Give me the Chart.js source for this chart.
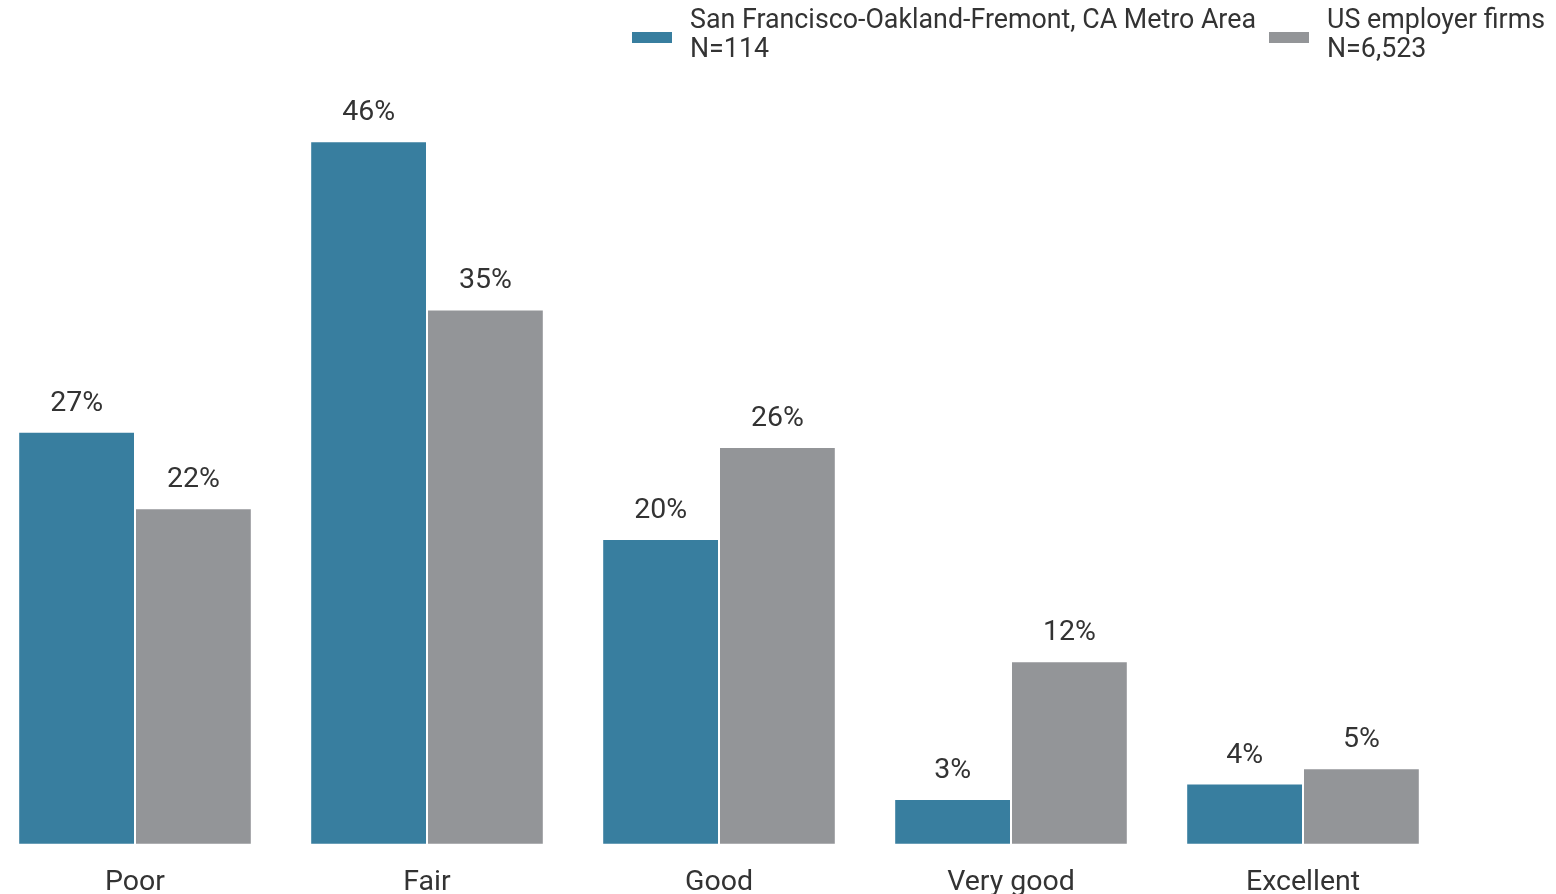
<!DOCTYPE html>
<html>
<head>
<meta charset="utf-8">
<script src="https://cdn.jsdelivr.net/npm/chart.js@4"></script>
<style>
  html, body { margin: 0; padding: 0; background: #fff; overflow: hidden; }
  body { width: 1556px; height: 894px; position: relative; font-family: Roboto, sans-serif; }
  #wrap { position: absolute; left: -11px; top: 0; width: 1460px; height: 921px; }
  .legend { position: absolute; top: 5px; color: #333; font-size: 26.8px; line-height: 29px; }
  .legend .sw { position: absolute; left: 0; top: 27px; width: 40px; height: 11px; }
  .legend .txt { margin-left: 58px; white-space: nowrap; }
</style>
</head>
<body>
<div id="wrap"><canvas id="grafico"></canvas></div>
<div class="legend" id="leg0" style="left:632px"><div class="sw"></div><div class="txt"></div></div>
<div class="legend" id="leg1" style="left:1269px"><div class="sw"></div><div class="txt"></div></div>
<script>
const categorias = ['Poor', 'Fair', 'Good', 'Very good', 'Excellent'];
const sanFrancisco = [27, 46, 20, 3, 4];
const usFirmas = [22, 35, 26, 12, 5];
const nomesSeries = ['San Francisco-Oakland-Fremont, CA Metro Area', 'US employer firms'];
const amostras = ['N=114', 'N=6,523'];
const cores = ['#387e9f', '#939598'];

// legenda em html, duas linhas cada
[0, 1].forEach((i) => {
  const el = document.getElementById('leg' + i);
  el.querySelector('.sw').style.background = cores[i];
  el.querySelector('.txt').innerHTML = nomesSeries[i] + '<br>' + amostras[i];
});

const rotulos = {
  id: 'rotulos',
  afterDatasetsDraw(chart) {
    const ctx = chart.ctx;
    ctx.save();
    ctx.font = '28.5px Roboto';
    ctx.fillStyle = '#333';
    ctx.textAlign = 'center';
    ctx.textBaseline = 'alphabetic';
    chart.data.datasets.forEach((ds, i) => {
      chart.getDatasetMeta(i).data.forEach((bar, j) => {
        ctx.fillText(ds.data[j] + '%', bar.x, bar.y - 21);
      });
    });
    ctx.restore();
  }
};

const ctx = document.getElementById('grafico').getContext('2d');
new Chart(ctx, {
  type: 'bar',
  data: {
    labels: categorias,
    datasets: [
      { label: nomesSeries[0], data: sanFrancisco, backgroundColor: cores[0], borderColor: '#fff', borderWidth: 1, borderSkipped: false },
      { label: nomesSeries[1], data: usFirmas, backgroundColor: cores[1], borderColor: '#fff', borderWidth: 1, borderSkipped: false }
    ]
  },
  options: {
    responsive: true,
    maintainAspectRatio: false,
    animation: false,
    layout: { padding: { top: 80, left: 0, right: 0, bottom: 0 } },
    datasets: { bar: { barPercentage: 1, categoryPercentage: 0.8 } },
    plugins: { legend: { display: false }, tooltip: { enabled: false } },
    scales: {
      x: {
        grid: { display: false, drawTicks: false },
        border: { display: false },
        ticks: { color: '#333', font: { family: 'Roboto', size: 28.5 }, padding: 21 }
      },
      y: { display: false, min: 0, max: 50 }
    }
  },
  plugins: [rotulos]
});
</script>
</body>
</html>
